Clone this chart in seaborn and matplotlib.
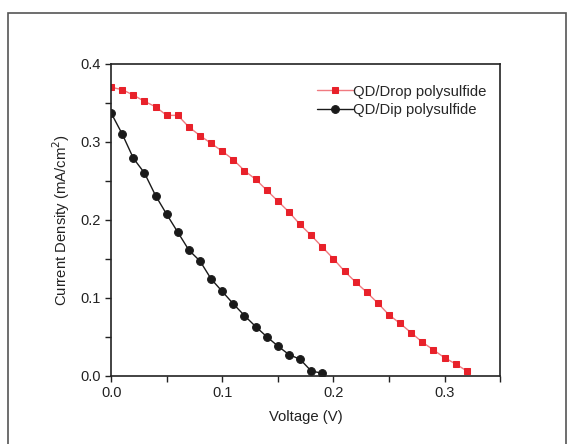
import matplotlib
matplotlib.use("Agg")
import matplotlib.pyplot as plt
import seaborn as sns
import pandas as pd
from matplotlib.patches import Rectangle
from matplotlib.ticker import MultipleLocator

# Data
voltage_drop = [0.00, 0.01, 0.02, 0.03, 0.04, 0.05, 0.06, 0.07, 0.08, 0.09,
                0.10, 0.11, 0.12, 0.13, 0.14, 0.15, 0.16, 0.17, 0.18, 0.19,
                0.20, 0.21, 0.22, 0.23, 0.24, 0.25, 0.26, 0.27, 0.28, 0.29,
                0.30, 0.31, 0.32]
current_drop = [0.370, 0.367, 0.360, 0.352, 0.345, 0.334, 0.334, 0.319, 0.308, 0.298,
                0.288, 0.277, 0.263, 0.252, 0.238, 0.224, 0.210, 0.194, 0.180, 0.165,
                0.150, 0.134, 0.120, 0.107, 0.093, 0.078, 0.067, 0.055, 0.043, 0.033,
                0.023, 0.015, 0.006]

voltage_dip = [0.00, 0.01, 0.02, 0.03, 0.04, 0.05, 0.06, 0.07, 0.08, 0.09,
               0.10, 0.11, 0.12, 0.13, 0.14, 0.15, 0.16, 0.17, 0.18, 0.19]
current_dip = [0.337, 0.310, 0.279, 0.260, 0.231, 0.207, 0.184, 0.161, 0.147, 0.124,
               0.108, 0.092, 0.077, 0.063, 0.050, 0.038, 0.027, 0.021, 0.006, 0.003]

labels = ["QD/Drop polysulfide", "QD/Dip polysulfide"]

sns.set_style("ticks")
plt.rcParams["font.family"] = ["Liberation Sans", "DejaVu Sans"]

fig = plt.figure(figsize=(5.67, 4.44), dpi=100)
ax = fig.add_axes([0.196, 0.154, 0.686, 0.702])

# frame around the whole picture
fig.patches.append(Rectangle((0.014, -0.01), 0.984, 0.981, transform=fig.transFigure,
                             fill=False, edgecolor="#555555", linewidth=1.2))

df_drop = pd.DataFrame({"V": voltage_drop, "J": current_drop})
df_dip = pd.DataFrame({"V": voltage_dip, "J": current_dip})

sns.lineplot(data=df_drop, x="V", y="J", ax=ax, color="#f07a80", linewidth=1.0,
             marker="s", markersize=4.8, markerfacecolor="#e8212a",
             markeredgecolor="#e8212a", label=labels[0])
sns.lineplot(data=df_dip, x="V", y="J", ax=ax, color="#1a1a1a", linewidth=1.0,
             marker="o", markersize=5.6, markerfacecolor="#1a1a1a",
             markeredgecolor="#1a1a1a", label=labels[1])

ax.set_xlim(0, 0.35)
ax.set_ylim(0, 0.4)
ax.xaxis.set_major_locator(MultipleLocator(0.1))
ax.xaxis.set_minor_locator(MultipleLocator(0.05))
ax.yaxis.set_major_locator(MultipleLocator(0.1))
ax.yaxis.set_minor_locator(MultipleLocator(0.05))
ax.tick_params(which="both", direction="out", length=4, width=1, labelsize=10.5,
               colors="#222222")
for s in ax.spines.values():
    s.set_linewidth(1.2)
    s.set_color("#222222")

ax.set_xlabel("Voltage (V)", fontsize=10.7, color="#222222", labelpad=7)
ax.set_ylabel("Current Density (mA/cm$^2$)", fontsize=10.7, color="#222222", labelpad=6)

ax.legend(loc="upper left", bbox_to_anchor=(0.53, 0.934), frameon=False,
          fontsize=10.7, handlelength=2.4, handletextpad=0.0, labelspacing=0.3,
          borderpad=0.0, borderaxespad=0.0)

fig.savefig("out.png", dpi=100)
